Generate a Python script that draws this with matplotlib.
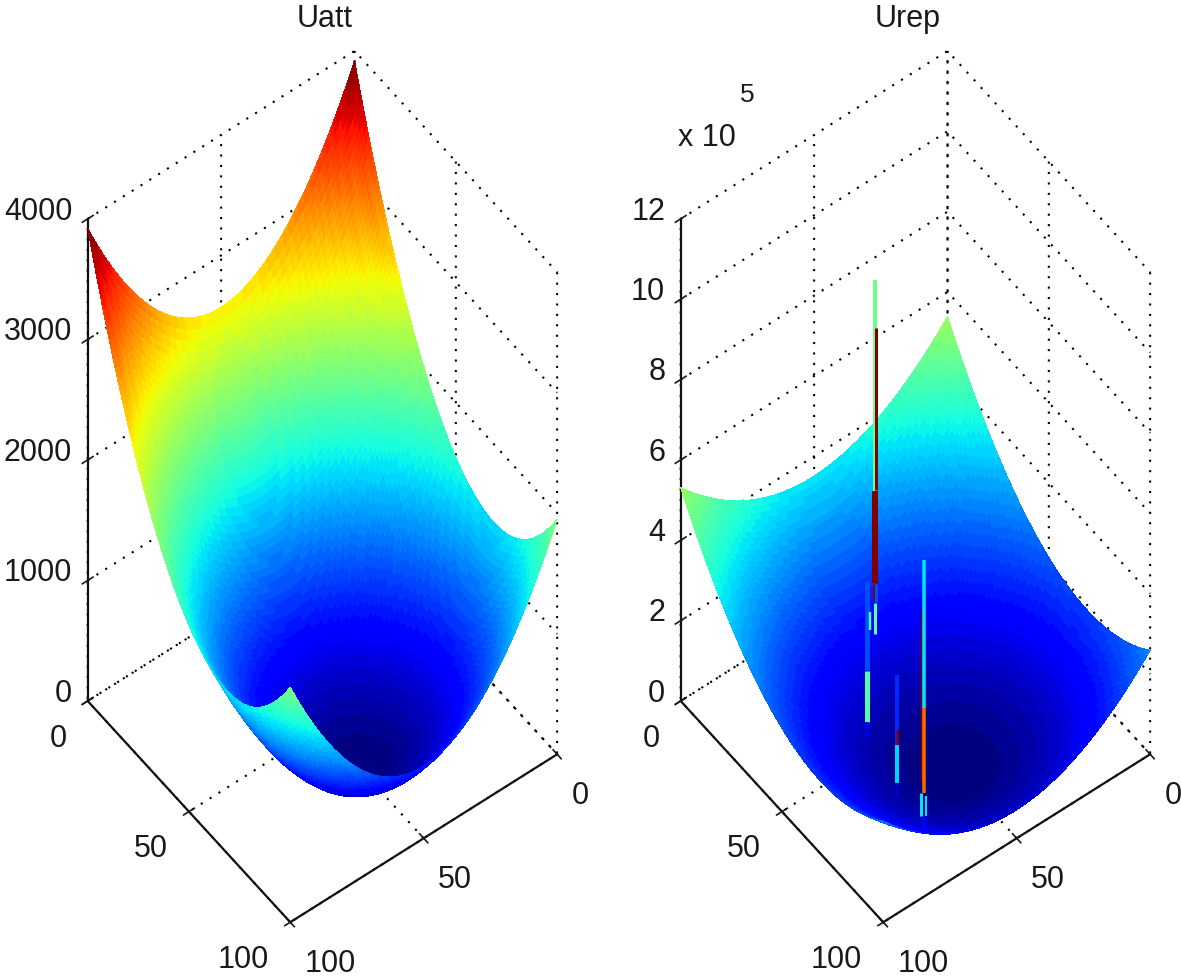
import matplotlib
matplotlib.use('Agg')
import matplotlib.pyplot as plt
from matplotlib.text import Text
from matplotlib.transforms import ScaledTranslation
from mpl_toolkits.mplot3d import Axes3D
import numpy as np

plt.rcParams['font.family'] = ['Liberation Sans', 'DejaVu Sans']

grid_pos = np.arange(0, 101)
uatt_a = [2571, 2497, 2424, 2352, 2282, 2212, 2143, 2076, 2009, 1944, 1880, 1817, 1754, 1693, 1634, 1575, 1517,
          1460, 1405, 1350, 1297, 1244, 1193, 1143, 1094, 1045, 998, 953, 908, 864, 821, 780, 739, 700, 662,
          624, 588, 553, 519, 486, 454, 423, 394, 365, 338, 311, 286, 261, 238, 216, 195, 175, 156, 138, 122,
          106, 91, 78, 65, 54, 44, 35, 26, 19, 14, 9, 5, 2, 1, 0,
          1, 2, 5, 10, 15, 21, 29, 39, 50, 61, 74, 89, 104, 121, 139, 158, 179, 201, 224, 248, 274, 300, 329, 358,
          389, 421, 454, 488, 524, 561, 599]
uatt_b = [1350, 1297, 1244, 1193, 1143, 1094, 1045, 998, 953, 908, 864, 821, 780, 739, 700, 662, 624, 588, 553,
          519, 486, 454, 423, 394, 365, 338, 311, 286, 261, 238, 216, 195, 175, 156, 138, 122, 106, 91, 78, 65,
          54, 44, 35, 26, 19, 14, 9, 5, 2, 1, 0,
          1, 2, 5, 9, 14, 19, 26, 35, 44, 54, 65, 78, 91, 106, 122, 138, 156, 175, 195, 216, 238, 261, 286, 311,
          338, 365, 394, 423, 454, 486, 519, 553, 588, 624, 662, 700, 739, 780, 821, 864, 908, 953, 998, 1045,
          1094, 1143, 1193, 1244, 1297, 1350]
# urep heights in units of 1e5
urep_a = [3.509, 3.408, 3.308, 3.210, 3.114, 3.019, 2.925, 2.833, 2.742, 2.653, 2.565, 2.479, 2.395, 2.311, 2.229,
          2.149, 2.070, 1.993, 1.917, 1.843, 1.770, 1.698, 1.628, 1.559, 1.492, 1.427, 1.363, 1.300, 1.239, 1.179,
          1.121, 1.064, 1.009, .955, .903, .852, .803, .755, .708, .663, .620, .578, .537, .498, .461, .425, .390,
          .357, .325, .295, .266, .239, .213, .189, .166, .144, .125, .106, .089, .074, .060, .047, .036, .027,
          .018, .012, .007, .003, .001, 0,
          .001, .003, .007, .012, .018, .027, .036, .047, .060, .074, .089, .106, .125, .144, .166, .189, .213,
          .239, .266, .295, .325, .357, .390, .425, .461, .498, .537, .578, .620, .663, .708]
urep_b = [1.879, 1.806, 1.734, 1.663, 1.593, 1.526, 1.459, 1.394, 1.331, 1.269, 1.209, 1.150, 1.092, 1.036, .982,
          .929, .877, .827, .778, .731, .685, .641, .598, .557, .517, .479, .442, .407, .373, .340, .310, .280,
          .252, .226, .200, .177, .155, .134, .115, .097, .081, .066, .053, .041, .031, .022, .015, .009, .005,
          .002, 0,
          0, .002, .005, .009, .015, .022, .031, .041, .053, .066, .081, .097, .115, .134, .155, .177, .200, .226,
          .252, .280, .310, .340, .373, .407, .442, .479, .517, .557, .598, .641, .685, .731, .778, .827, .877,
          .929, .982, 1.036, 1.092, 1.150, 1.209, 1.269, 1.331, 1.394, 1.459, 1.526, 1.593, 1.663, 1.734, 1.806]

# obstacle spikes in urep: a, b, z low, z high, colour value, width in pixels
spikes = [(30, 50.1, 4.79, 10.05, 5.8, 4), (30, 49.6, 4.80, 8.84, 12, 3), (30, 50.1, 2.50, 4.79, 12, 6),
          (30, 50.5, 2.07, 2.50, 12, 3), (30, 49.6, 2.02, 2.46, 2.4, 3), (30, 50.0, 1.22, 2.01, 5.6, 3),
          (45, 64.4, 1.75, 3.98, 2.4, 5), (45, 64.4, .46, 1.73, 5.4, 5), (45, 64.4, .09, .46, 1.0, 4),
          (45, 63.1, 2.71, 3.16, 5.2, 2.5),
          (70, 71.9, 1.59, 3.33, 2.0, 4), (70, 71.6, 1.28, 1.95, 12, 2.5), (70, 71.9, .65, 1.59, 4.0, 4),
          (70, 71.9, .28, .65, .8, 4),
          (90, 78.0, 2.05, 6.29, 12, 3), (90, 77.2, 3.83, 7.52, 4.2, 3.5), (90, 77.2, 1.72, 3.83, 9.6, 3.5),
          (90, 78.2, 1.18, 1.75, 4.2, 3), (90, 76.3, 1.11, 1.61, 4.2, 2), (90, 77.2, .85, 1.15, 1.5, 3)]

ab_ticks = [0, 50, 100]
uatt_zticks = [0, 1000, 2000, 3000, 4000]
urep_zticks = [0, 2, 4, 6, 8, 10, 12]

W, H = 1181., 978.
dots = (0, (1, 4))
txt = '#1a1a1a'
jet64 = plt.get_cmap('jet', 64)

def nudge(axis, ha, dx, dy):
	# axis3d puts transData back on the labels at every draw, so the offset goes in set_transform
	off = ScaledTranslation(dx/100., -dy/100., fig.dpi_scale_trans)
	for tick in axis.get_major_ticks():
		lab = tick.label1
		lab.set_ha(ha)
		lab.set_transform = (lambda t, lab=lab: Text.set_transform(lab, t + off))

def setup(ax, zticks, zmax):
	ax.set_proj_type('ortho')
	ax.computed_zorder = False
	ax.patch.set_alpha(0)
	ax.view_init(elev=56, azim=52.8)
	ax.set_box_aspect((335, 335, 862))
	ax.set_xlim(0, 100)
	ax.set_ylim(0, 100)
	ax.set_zlim(0, zmax)
	ax.set_xticks(ab_ticks)
	ax.set_yticks(ab_ticks)
	ax.set_zticks(zticks)
	ax.tick_params(labelsize=22, colors=txt, pad=0)
	for axis in [ax.xaxis, ax.yaxis, ax.zaxis]:
		axis.set_pane_color((1, 1, 1, 0))
		axis.pane.set_edgecolor('k')
		axis.pane.set_linestyle(dots)
		axis.pane.set_linewidth(1.5)
		axis.line.set_color('#111111')
		axis.line.set_linewidth(1.6)
		axis._axinfo['grid'].update(color='k', linestyle=dots, linewidth=1.5)
		axis._axinfo['tick'].update(inward_factor=0.25, outward_factor=0.25, linewidth={True: 1.2, False: 1.0})
	ax.zaxis.set_ticks_position('lower')

fig = plt.figure(figsize=(W/100, H/100), dpi=100)

side = 955.
ax1 = fig.add_axes([-168/W, 0, side/W, side/H], projection='3d')
ax2 = fig.add_axes([(593-168)/W, 0, side/W, side/H], projection='3d')
setup(ax1, uatt_zticks, 4000)
setup(ax2, urep_zticks, 12)

B, A = np.meshgrid(grid_pos, grid_pos)
Z1 = np.add.outer(np.array(uatt_a), np.array(uatt_b))
Z2 = np.add.outer(np.array(urep_a), np.array(urep_b))

ax1.plot_surface(B, A, Z1, rstride=1, cstride=1, cmap=jet64, vmin=0, vmax=3921,
	linewidth=0, antialiased=False, zorder=1)
ax2.plot_surface(B, A, Z2, rstride=1, cstride=1, cmap=jet64, vmin=0, vmax=10,
	linewidth=0, antialiased=False, zorder=1)

for a, b, z0, z1, val, wid in spikes:
	ax2.plot([b, b], [a, a], [z0, z1], color=plt.cm.jet(val/12.), linewidth=wid*0.72,
		solid_capstyle='butt', zorder=2)

for ax in [ax1, ax2]:
	nudge(ax.xaxis, 'left', 10, 10)
	nudge(ax.yaxis, 'right', -15, 7)
	nudge(ax.zaxis, 'right', -5, -22)

fig.text(325/W, 1-27/H, 'Uatt', fontsize=22, color=txt, ha='center')
fig.text(908/W, 1-27/H, 'Urep', fontsize=22, color=txt, ha='center')
fig.text(678/W, 1-146/H, 'x 10', fontsize=22, color=txt)
fig.text(740/W, 1-102/H, '5', fontsize=19, color=txt)

fig.savefig('out.png', dpi=100)
